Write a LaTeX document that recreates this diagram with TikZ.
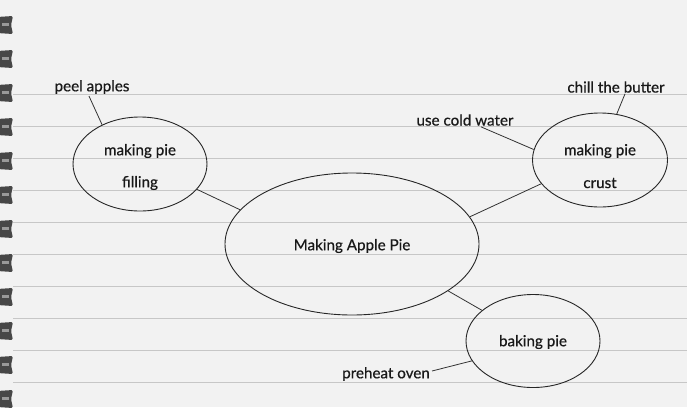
\documentclass[tikz,border=0pt]{standalone}
\usepackage{fontspec}
\setmainfont{Lato}[FakeBold=0.6]
\usetikzlibrary{shapes.geometric}
\begin{document}
\begin{tikzpicture}[x=1pt,y=-1pt,
  bubble/.style={draw=black!85, line width=0.9pt, ellipse, inner sep=0pt},
  lbl/.style={inner sep=0pt, font=\fontsize{15.2}{17}\selectfont, text=black!90},
  link/.style={draw=black!80, line width=0.8pt},
  ruling/.style={draw=black!22, line width=1pt},
  clip mark/.style={fill=black!72, rounded corners=1.5pt}]
\useasboundingbox (0,0) rectangle (687,407);
\fill[black!5] (0,0) rectangle (687,407);
% ruled lines
\foreach \k in {0,...,9} {
  \draw[ruling] (13,{94+32.1*\k}) -- (687,{94+32.1*\k});
}
% spiral marks
\foreach \k in {0,...,11} {
  \fill[clip mark] (-3,{25+34*\k-8}) -- (13,{25+34*\k-9}) -- (11,{25+34*\k}) -- (13,{25+34*\k+9}) -- (-3,{25+34*\k+8}) -- cycle;
  \fill[black!40] (2,{25+34*\k-2}) rectangle (9,{25+34*\k+1});
}
% ellipses
\node[bubble, minimum width=254, minimum height=142] (main) at (352,244) {};
\node[lbl] (maintxt) at (352,246) {Making Apple Pie};
\node[bubble, minimum width=134, minimum height=94] (fill) at (140,164) {};
\node[lbl] (fill1) at (140,151) {making pie};
\node[lbl] (fill2) at (140,183) {filling};
\node[bubble, minimum width=135, minimum height=94] (crust) at (600,160) {};
\node[lbl] (crust1) at (600,151) {making pie};
\node[lbl] (crust2) at (600,183) {crust};
\node[bubble, minimum width=134, minimum height=93] (bake) at (533,341) {};
\node[lbl] (baketxt) at (533,342) {baking pie};
% labels
\node[lbl] (peel) at (92,87) {peel apples};
\node[lbl] (chill) at (616,87) {chill the butter};
\node[lbl] (water) at (465,120) {use cold water};
\node[lbl] (preheat) at (386,374) {preheat oven};
% connectors
\draw[link] (fill.-24) -- (main.163.7);
\draw[link] (crust.202.5) -- (main.13.6);
\draw[link] (main.-26.8) -- (bake.149);
\draw[link] ([xshift=-3]peel.south) ++(0,2) -- (fill.134);
\draw[link] ([xshift=9]chill.south) ++(0,1) -- (crust.70);
\draw[link] ([xshift=16]water.south) ++(0,1) -- (crust.171);
\draw[link] ([xshift=2,yshift=3]preheat.east) -- (bake.198);
\end{tikzpicture}
\end{document}
